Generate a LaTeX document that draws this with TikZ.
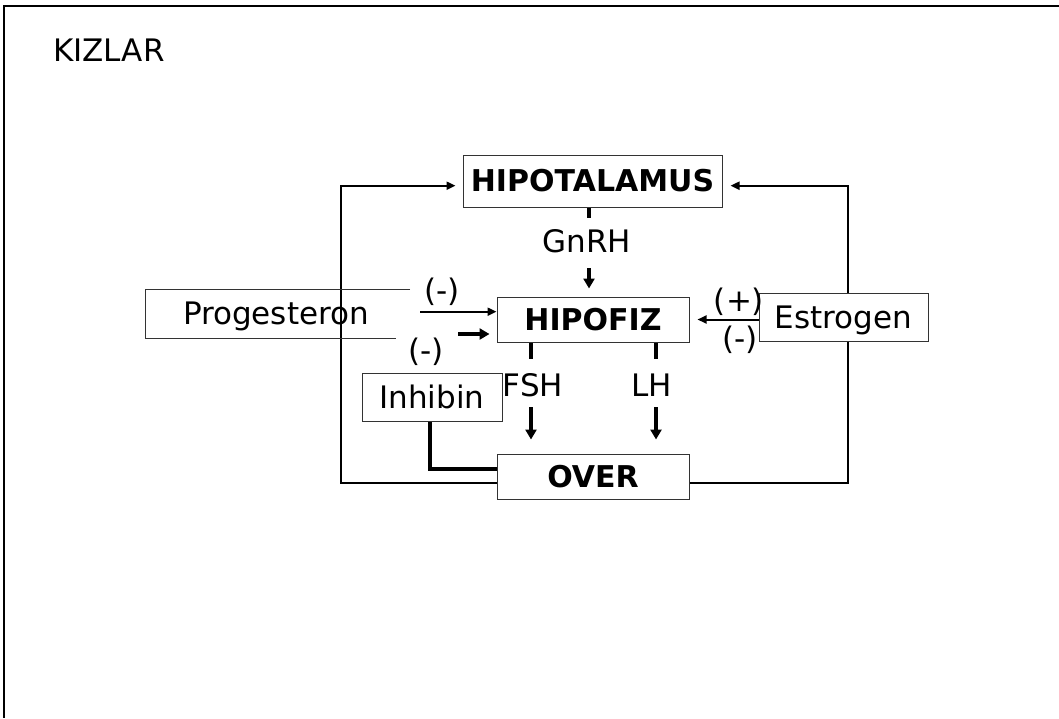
\documentclass[tikz,border=0pt]{standalone}
\usepackage{fontspec}
\setmainfont{DejaVu Sans}
\usetikzlibrary{arrows.meta,backgrounds,calc}

\begin{document}
\begin{tikzpicture}[x=1pt,y=-1pt,
  every node/.style={font=\fontsize{31}{37}\selectfont},
  box/.style={draw=black!80, line width=1pt, fill=white, inner sep=0pt,
    text height=22.6pt, text depth=0pt},
  boldbox/.style={box, font=\fontsize{30}{36}\selectfont\bfseries, text height=21.9pt},
  conn/.style={line width=2pt},
  heavy/.style={line width=3.5pt},
  tip/.style={-{Triangle[length=9pt,width=8pt]}},
  bigtip/.style={-{Triangle[length=10pt,width=11pt]}},
  sign/.style={inner sep=0pt, text height=23.6pt, text depth=4pt},
  lbl/.style={inner sep=0pt, anchor=base}]

\useasboundingbox (0,0) rectangle (1059,718);

% page frame
\draw[line width=2.2pt] (1059,6) -- (4,6) -- (4,718);

% title
\node[lbl, anchor=base west] (title) at (53,61) {KIZLAR};

% main boxes
\node[boldbox, minimum width=259pt, minimum height=52pt] (hyp) at (592.5,181) {HIPOTALAMUS};
\node[boldbox, minimum width=192pt, minimum height=45pt] (hip) at (593,319.5) {HIPOFIZ};
\node[boldbox, minimum width=192pt, minimum height=45pt] (over) at (593,476.5) {OVER};
\node[box, minimum width=169pt, minimum height=48pt] (est) at (843.5,317) {Estrogen};
\node[box, minimum width=140pt, minimum height=48pt] (inh) at (432,397) {Inhibin};

% progesteron box, open on its right side
\node[box, draw=none, fill=none] (prog) at (276,313.5) {Progesteron};
\draw[draw=black!80, line width=1pt] (410,289) -- (145,289) -- (145,338) -- (396,338);

% free ends of connectors
\coordinate (lc) at (341,185.7);
\coordinate (rc) at (848,185.7);
\coordinate (g0) at (589,268);
\coordinate (p1) at (420,311.7);
\coordinate (p2) at (458,334);
\coordinate (f0) at (531,407);
\coordinate (l0) at (656,407);

\begin{pgfonlayer}{background}
  % feedback loops from the ovary to the hypothalamus
  \draw[conn,tip] ([yshift=-6.5pt]over.west) -| (lc) -- ([xshift=-7pt,yshift=-4.7pt]hyp.west);
  \draw[conn,tip] ([yshift=-6.5pt]over.east) -| (rc) -- ([xshift=8pt,yshift=-4.7pt]hyp.east);
  % GnRH
  \draw[heavy] ([xshift=-3.5pt]hyp.south) -- ([xshift=-3.5pt,yshift=-10pt]hyp.south);
  \draw[heavy,bigtip] (g0) -- ([xshift=-4pt,yshift=8pt]hip.north);
  % FSH and LH
  \draw[heavy] ([xshift=-62pt]hip.south) -- ([xshift=-62pt,yshift=-16pt]hip.south);
  \draw[heavy] ([xshift=63pt]hip.south) -- ([xshift=63pt,yshift=-16pt]hip.south);
  \draw[heavy,bigtip] (f0) -- ([xshift=-62pt,yshift=14pt]over.north);
  \draw[heavy,bigtip] (l0) -- ([xshift=63pt,yshift=14pt]over.north);
  % steroid and inhibin feedback on the pituitary
  \draw[conn,tip] (p1) -- (p1 -| hip.west);
  \draw[heavy,bigtip] (p2) -- ([xshift=-7pt]p2 -| hip.west);
  \draw[conn,tip] (est.west |- hip.east) -- ([xshift=8pt]hip.east);
  \draw[heavy] ([xshift=-2pt]inh.south) |- ([yshift=7.5pt]over.west);
\end{pgfonlayer}

% hormone labels
\node[lbl] (gnrh) at (587,252) {GnRH};
\node[lbl] (fsh) at (533,396) {FSH};
\node[lbl] (lh) at (652,396) {LH};

% effect signs
\node[sign] (m0) at (442,292) {(-)};
\node[sign, fill=white, minimum width=60pt] (m1) at (426,352) {(-)};
\node[sign] (pl) at (739,302) {(+)};
\node[sign] (m2) at (740,340) {(-)};
\end{tikzpicture}
\end{document}
